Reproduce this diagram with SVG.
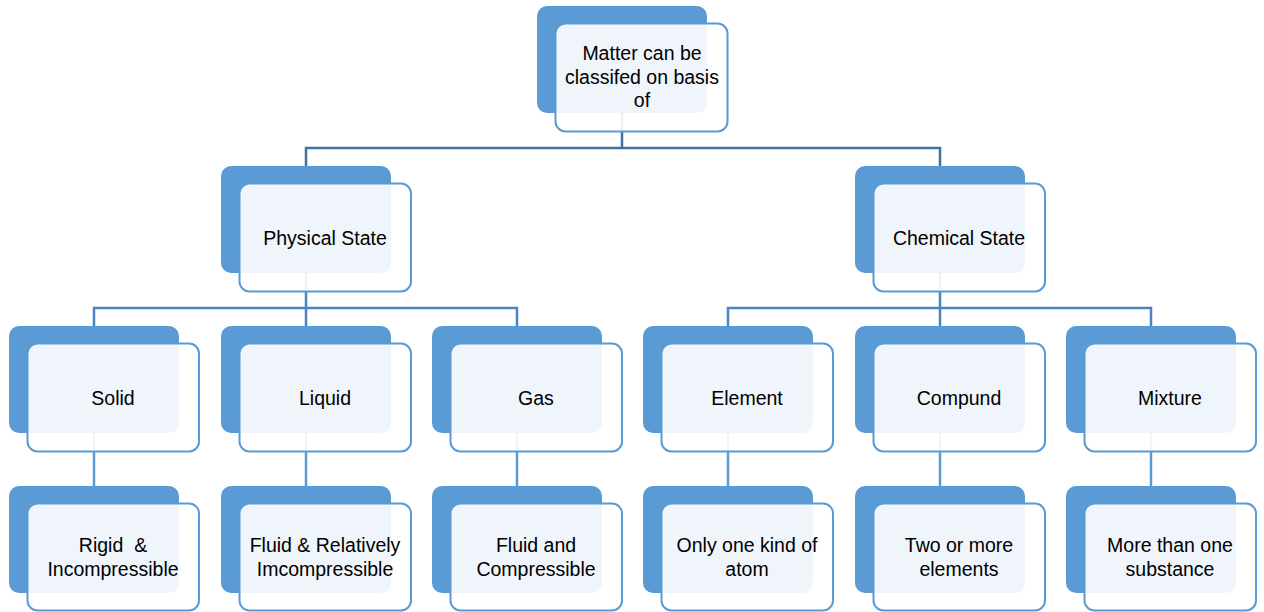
<svg xmlns="http://www.w3.org/2000/svg" width="1264" height="612" viewBox="0 0 1264 612">
<defs>
<style>
.back{fill:#5B9BD5;}
.front{fill:#FFFFFF;fill-opacity:0.9;stroke:#5B9BD5;stroke-width:2;}
.lbl{font-family:"Liberation Sans",Arial,sans-serif;font-size:19.5px;fill:#000;text-anchor:middle;}
.c1{fill:none;stroke:#41719C;stroke-width:2.5;}
.c2{fill:none;stroke:#4A84C4;stroke-width:2.5;}
.c3{fill:none;stroke:#5B9BD5;stroke-width:2.5;}
</style>
</defs>
<rect width="1264" height="612" fill="#FFFFFF"/>
<g id="connectors">
<path class="c1" d="M622,112 V148 M306,166 V148 H940 V166"/>
<path class="c2" d="M306,273 V308 M94,326 V308 H517 V326 M306,308 V326"/>
<path class="c2" d="M940,273 V308 M728,326 V308 H1151 V326 M940,308 V326"/>
<path class="c3" d="M94,433 V486 M306,433 V486 M517,433 V486 M728,433 V486 M940,433 V486 M1151,433 V486"/>
</g>
<g id="n-matter">
<rect class="back" x="537" y="6" width="170" height="107" rx="10"/>
<rect class="front" x="555.5" y="23.5" width="172" height="108" rx="10"/>
<text class="lbl" x="642" y="60">Matter can be</text>
<text class="lbl" x="642" y="84">classifed on basis</text>
<text class="lbl" x="642" y="107">of</text>
</g>
<g id="n-physical">
<rect class="back" x="221" y="166" width="170" height="107" rx="10"/>
<rect class="front" x="239.5" y="183.5" width="171.5" height="108" rx="10"/>
<text class="lbl" x="325" y="245">Physical State</text>
</g>
<g id="n-chemical">
<rect class="back" x="855" y="166" width="170" height="107" rx="10"/>
<rect class="front" x="873.5" y="183.5" width="171.5" height="108" rx="10"/>
<text class="lbl" x="959" y="245">Chemical State</text>
</g>
<g id="n-solid">
<rect class="back" x="9" y="326" width="170" height="107" rx="10"/>
<rect class="front" x="27.5" y="343.5" width="171.5" height="108" rx="10"/>
<text class="lbl" x="113" y="405">Solid</text>
</g>
<g id="n-liquid">
<rect class="back" x="221" y="326" width="170" height="107" rx="10"/>
<rect class="front" x="239.5" y="343.5" width="171.5" height="108" rx="10"/>
<text class="lbl" x="325" y="405">Liquid</text>
</g>
<g id="n-gas">
<rect class="back" x="432" y="326" width="170" height="107" rx="10"/>
<rect class="front" x="450.5" y="343.5" width="171.5" height="108" rx="10"/>
<text class="lbl" x="536" y="405">Gas</text>
</g>
<g id="n-element">
<rect class="back" x="643" y="326" width="170" height="107" rx="10"/>
<rect class="front" x="661.5" y="343.5" width="171.5" height="108" rx="10"/>
<text class="lbl" x="747" y="405">Element</text>
</g>
<g id="n-compund">
<rect class="back" x="855" y="326" width="170" height="107" rx="10"/>
<rect class="front" x="873.5" y="343.5" width="171.5" height="108" rx="10"/>
<text class="lbl" x="959" y="405">Compund</text>
</g>
<g id="n-mixture">
<rect class="back" x="1066" y="326" width="170" height="107" rx="10"/>
<rect class="front" x="1084.5" y="343.5" width="171.5" height="108" rx="10"/>
<text class="lbl" x="1170" y="405">Mixture</text>
</g>
<g id="n-rigid">
<rect class="back" x="9" y="486" width="170" height="107" rx="10"/>
<rect class="front" x="27.5" y="503.5" width="171.5" height="107" rx="10"/>
<text class="lbl" x="113" y="552" xml:space="preserve">Rigid  &amp;</text>
<text class="lbl" x="113" y="576">Incompressible</text>
</g>
<g id="n-fluid1">
<rect class="back" x="221" y="486" width="170" height="107" rx="10"/>
<rect class="front" x="239.5" y="503.5" width="171.5" height="107" rx="10"/>
<text class="lbl" x="325" y="552">Fluid &amp; Relatively</text>
<text class="lbl" x="325" y="576">Imcompressible</text>
</g>
<g id="n-fluid2">
<rect class="back" x="432" y="486" width="170" height="107" rx="10"/>
<rect class="front" x="450.5" y="503.5" width="171.5" height="107" rx="10"/>
<text class="lbl" x="536" y="552">Fluid and</text>
<text class="lbl" x="536" y="576">Compressible</text>
</g>
<g id="n-atom">
<rect class="back" x="643" y="486" width="170" height="107" rx="10"/>
<rect class="front" x="661.5" y="503.5" width="171.5" height="107" rx="10"/>
<text class="lbl" x="747" y="552">Only one kind of</text>
<text class="lbl" x="747" y="576">atom</text>
</g>
<g id="n-two">
<rect class="back" x="855" y="486" width="170" height="107" rx="10"/>
<rect class="front" x="873.5" y="503.5" width="171.5" height="107" rx="10"/>
<text class="lbl" x="959" y="552">Two or more</text>
<text class="lbl" x="959" y="576">elements</text>
</g>
<g id="n-more">
<rect class="back" x="1066" y="486" width="170" height="107" rx="10"/>
<rect class="front" x="1084.5" y="503.5" width="171.5" height="107" rx="10"/>
<text class="lbl" x="1170" y="552">More than one</text>
<text class="lbl" x="1170" y="576">substance</text>
</g>
</svg>
